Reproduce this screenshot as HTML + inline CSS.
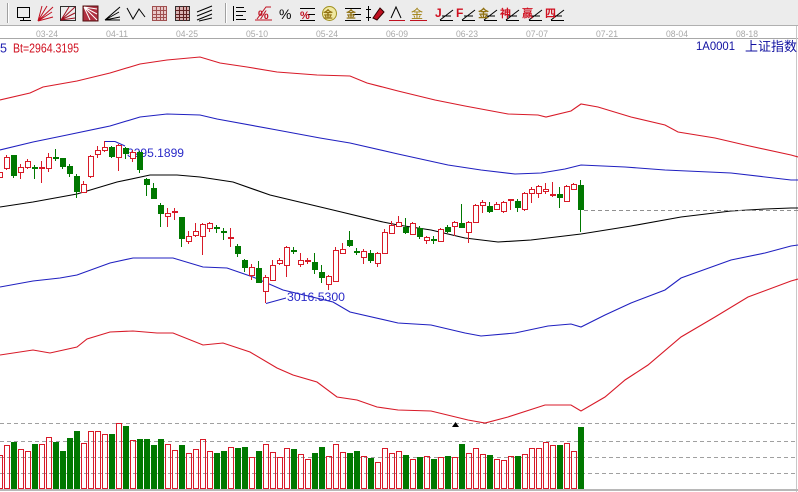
<!DOCTYPE html>
<html><head><meta charset="utf-8"><style>
html,body{margin:0;padding:0;background:#fff;overflow:hidden}
svg{display:block}
</style></head><body>
<svg width="798" height="492" viewBox="0 0 798 492" xmlns="http://www.w3.org/2000/svg" font-family="Liberation Sans, Noto Sans CJK SC, sans-serif">
<rect x="0" y="0" width="798" height="492" fill="#fff"/>
<!-- toolbar -->
<rect x="0" y="0" width="798" height="26" fill="#ececec"/>
<line x1="0" y1="25.5" x2="798" y2="25.5" stroke="#b0b0b0"/>
<line x1="7.5" y1="3" x2="7.5" y2="23" stroke="#a0a0a0"/><line x1="8.5" y1="3" x2="8.5" y2="23" stroke="#fff"/>
<line x1="225.5" y1="3" x2="225.5" y2="23" stroke="#a0a0a0"/><line x1="226.5" y1="3" x2="226.5" y2="23" stroke="#fff"/>
<g stroke-width="1" fill="none">
<!-- 1 -->
<rect x="17.5" y="7.5" width="12" height="10" stroke="#000"/><line x1="20" y1="20.5" x2="31" y2="20.5" stroke="#000"/><line x1="23.5" y1="17" x2="23.5" y2="21" stroke="#000"/>
<!-- 2 red fan -->
<path d="M38 21L53 7M38 21L52 12M38 21L53 17M38 21L47 6M38 21L42 6" stroke="#c01020"/>
<!-- 3 -->
<rect x="60.5" y="6.5" width="15" height="14" stroke="#303030"/><path d="M61 20L75 7M61 20L75 13M61 20L69 7M61 20L75 18" stroke="#a01020"/>
<!-- 4 -->
<rect x="83" y="6" width="15" height="15" fill="#b03040" stroke="#501010"/><path d="M84 7L97 20M84 7L97 14M84 7L90 20M84 7L97 9" stroke="#fff"/>
<!-- 5 -->
<path d="M105 20L120 7M105 20L119 12M105 20L120 17M105 20H120" stroke="#000"/>
<!-- 6 -->
<path d="M127 8L133 19L139 9L145 17" stroke="#000"/>
<!-- 7 grid -->
<rect x="152.5" y="6.5" width="14" height="14" stroke="#a05050" fill="#e8c8c8"/><path d="M152 10.5H167M152 14.5H167M152 17.5H167M156.5 6V21M160.5 6V21M163.5 6V21" stroke="#a05050"/>
<!-- 8 grid -->
<rect x="175.5" y="6.5" width="14" height="14" stroke="#303030" fill="#d8b0b0"/><path d="M175 10.5H190M175 14.5H190M175 17.5H190M179.5 6V21M183.5 6V21M186.5 6V21" stroke="#602020"/>
<!-- 9 -->
<path d="M197 12L212 6M197 16L212 10M197 20L212 14M199 21L212 18" stroke="#000"/>
<!-- 11 -->
<path d="M233.5 6V21M236 7.5H244M236 11.5H246M236 15.5H243M236 19.5H246" stroke="#000"/>
<!-- 12 -->
<path d="M255 20H272M257 19L266 7H271" stroke="#c01020"/>
<!-- 14 -->
<path d="M300 8.5H315M300 20.5H315M308 14.5H315" stroke="#000"/>
<!-- 15 -->
<circle cx="329.5" cy="13.5" r="7" stroke="#a09020" fill="#f0e8a0"/>
<!-- 16 -->
<path d="M345 8.5H361M353 14.5H361M345 20.5H361" stroke="#000"/>
<!-- 17 -->
<path d="M368.5 6V21M366 9.5H371M366 17.5H371" stroke="#000"/><path d="M373 18L380 8L384 12L377 20Z" fill="#c01020" stroke="#300"/>
<!-- 18 -->
<path d="M389 20.5H405" stroke="#c01020"/><path d="M391 18L396 7L401 18" stroke="#000"/>
<!-- 19 -->
<path d="M410 20.5H427" stroke="#c01020"/>
<!-- angle icons -->
<path d="M440 20.5H453M440 20L453 10M442 16H451" stroke="#000"/>
<path d="M462 20.5H475M462 20L475 10M464 16H473" stroke="#000"/>
<path d="M484 20.5H497M484 20L497 10M486 16H495" stroke="#000"/>
<path d="M506 20.5H519M506 20L519 10M508 16H517" stroke="#000"/>
<path d="M529 20.5H542M529 20L542 10M531 16H540" stroke="#000"/>
<path d="M551 20.5H564M551 20L564 10M553 16H562" stroke="#000"/>
</g>
<g font-size="12" font-weight="bold">
<text x="258" y="19" fill="#c01020" font-size="12">%</text>
<text x="279" y="19" fill="#000" font-size="14" font-weight="normal">%</text>
<text x="300" y="19" fill="#c01020" font-size="11">%</text>
<text x="323" y="18" fill="#907010" font-size="10">金</text>
<text x="346" y="18" fill="#907010" font-size="10">金</text>
<text x="411" y="18" fill="#a08010" font-size="12" font-weight="normal">金</text>
<text x="435" y="17" fill="#d01020">J</text>
<text x="456" y="17" fill="#d01020">F</text>
<text x="478" y="17" fill="#907010" font-size="11">金</text>
<text x="500" y="17" fill="#d01020" font-size="11">神</text>
<text x="522" y="17" fill="#d01020" font-size="11">赢</text>
<text x="545" y="17" fill="#d01020" font-size="11">四</text>
</g>
<!-- date axis -->
<line x1="0" y1="38.5" x2="798" y2="38.5" stroke="#a8a8a8"/>
<g fill="#a8a8a8" font-size="9">
<text x="36" y="37" textLength="22" lengthAdjust="spacingAndGlyphs">03-24</text>
<text x="106" y="37" textLength="22" lengthAdjust="spacingAndGlyphs">04-11</text>
<text x="176" y="37" textLength="22" lengthAdjust="spacingAndGlyphs">04-25</text>
<text x="246" y="37" textLength="22" lengthAdjust="spacingAndGlyphs">05-10</text>
<text x="316" y="37" textLength="22" lengthAdjust="spacingAndGlyphs">05-24</text>
<text x="386" y="37" textLength="22" lengthAdjust="spacingAndGlyphs">06-09</text>
<text x="456" y="37" textLength="22" lengthAdjust="spacingAndGlyphs">06-23</text>
<text x="526" y="37" textLength="22" lengthAdjust="spacingAndGlyphs">07-07</text>
<text x="596" y="37" textLength="22" lengthAdjust="spacingAndGlyphs">07-21</text>
<text x="666" y="37" textLength="22" lengthAdjust="spacingAndGlyphs">08-04</text>
<text x="736" y="37" textLength="22" lengthAdjust="spacingAndGlyphs">08-18</text>
</g>
<line x1="796.5" y1="26" x2="796.5" y2="492" stroke="#c8c8c8"/>
<!-- header texts -->
<text x="0" y="52.5" fill="#2020b0" font-size="12.5">5</text>
<text x="13" y="52.5" fill="#d01020" font-size="12.5" textLength="66" lengthAdjust="spacingAndGlyphs">Bt=2964.3195</text>
<text x="696" y="50" fill="#1010a0" font-size="11.6" textLength="39" lengthAdjust="spacingAndGlyphs">1A0001</text>
<text x="745" y="51" fill="#1010a0" font-size="13" textLength="52" lengthAdjust="spacingAndGlyphs" font-family="Noto Sans CJK SC, sans-serif">上证指数</text>
<!-- volume grid -->
<g stroke="#a0a0a0" stroke-dasharray="4 3">
<line x1="0" y1="423.5" x2="796" y2="423.5"/>
<line x1="0" y1="441.5" x2="796" y2="441.5"/>
<line x1="0" y1="457.5" x2="796" y2="457.5"/>
<line x1="0" y1="473.5" x2="796" y2="473.5"/>
</g>
<line x1="0" y1="490" x2="798" y2="490" stroke="#b8b8b8" stroke-width="2"/>
<!-- bands -->
<g fill="none" stroke-width="1.1">
<polyline stroke="#d81a28" points="0,100 30,93 43,87 77,81 110,73 140,64 167,60 200,57 220,63 247,67 277,72 317,75 350,76 367,83 398,91 435,100 465,106 508,114 538,115 546,117 571,111 581,104 598,107 631,117 665,125 678,132 715,138 745,145 791,155 798,157"/>
<polyline stroke="#2020c0" points="0,150 33,142 67,135 110,126 140,117 167,114 200,115 217,119 277,130 320,138 350,143 398,154 448,165 481,170 515,174 541,173 565,169 581,165 625,167 665,170 731,173 791,180 798,180"/>
<polyline stroke="#000" points="0,207 33,202 77,194 117,182 150,175 177,175 200,177 233,182 270,195 333,210 383,222 398,225 431,230 465,238 498,242 531,240 581,234 631,226 681,217 731,211 765,209 791,208 798,208"/>
<polyline stroke="#2020c0" points="0,287 33,281 60,278 77,275 110,263 133,258 173,258 203,267 227,268 253,277 283,290 333,302 350,312 398,323 431,325 465,333 481,336 515,333 548,326 571,324 581,327 605,315 631,303 665,290 681,278 731,260 765,253 791,246 798,245"/>
<polyline stroke="#d81a28" points="0,355 33,350 50,353 77,347 87,339 110,332 133,331 157,333 173,333 203,345 223,343 250,352 277,368 293,375 317,382 337,397 357,400 377,407 398,410 431,411 468,420 485,423 508,417 545,405 571,405 581,411 605,397 625,380 648,365 681,337 715,317 748,297 791,281 798,279"/>
</g>
<line x1="584" y1="210.5" x2="798" y2="210.5" stroke="#909090" stroke-dasharray="4 3"/>
<polygon points="455.5,422 452,427 459,427" fill="#000"/>
<!-- hi/lo labels -->
<path d="M104 141.5H115L125 146" stroke="#2020c0" fill="none"/>
<text x="127" y="157" fill="#2a2ac8" font-size="12" textLength="57" lengthAdjust="spacingAndGlyphs">3295.1899</text>
<path d="M266 303.5L286 298" stroke="#2020c0" fill="none"/>
<text x="287" y="301" fill="#2a2ac8" font-size="12" textLength="58" lengthAdjust="spacingAndGlyphs">3016.5300</text>
<!-- wicks -->
<path fill="none" stroke="#d81a28" d="M-0.5 170V180M6.5 155V170M20.5 164V179M27.5 159V169M48.5 153V172M83.5 181V193M90.5 155V178M97.5 146V158M104.5 141V152M118.5 144V171M132.5 150V162M167.5 208V227M188.5 231V244M195.5 223V237M202.5 223V255M209.5 222V232M251.5 264V280M265.5 275V303M272.5 260V281M279.5 258V265M286.5 246V277M300.5 253V267M328.5 275V290M335.5 247V282M342.5 243V254M363.5 249V264M377.5 252V267M384.5 229V254M391.5 221V234M398.5 216V227M412.5 222V235M426.5 236V244M440.5 228V242M454.5 221V236M468.5 221V243M475.5 204V223M482.5 200V213M496.5 202V210M503.5 201V213M524.5 192V211M531.5 187V203M538.5 185V198M545.5 183V194M566.5 185V202M573.5 183V190M41.5 161V183M174.5 208V220M230.5 228V247M307.5 258V264M510.5 199V210M552.5 182V197"/>
<path fill="none" stroke="#007800" d="M13.5 155V178M62.5 158V169M69.5 164V177M76.5 174V198M111.5 146V158M125.5 147V159M139.5 151V173M146.5 178V196M153.5 183V198M160.5 203V227M181.5 217V247M237.5 244V257M244.5 259V272M258.5 261V282M314.5 253V274M321.5 265V283M349.5 231V247M370.5 250V263M405.5 218V234M419.5 226V239M447.5 225V233M461.5 204V227M489.5 202V213M517.5 199V212M559.5 187V208M580.5 180V232M34.5 165V179M55.5 149V161M216.5 225V233M223.5 228V240M293.5 247V254M356.5 248V255M433.5 236V244"/>
<!-- red hollow bodies -->
<g fill="#fff" stroke="#d81a28">
<rect x="-2.5" y="172.5" width="5" height="5"/><rect x="4.5" y="157.5" width="5" height="11"/><rect x="18.5" y="167.5" width="5" height="5"/><rect x="25.5" y="161.5" width="5" height="6"/><rect x="46.5" y="157.5" width="5" height="11"/><rect x="81.5" y="184.5" width="5" height="8"/><rect x="88.5" y="156.5" width="5" height="20"/><rect x="95.5" y="150.5" width="5" height="4"/><rect x="102.5" y="147.5" width="5" height="3"/><rect x="116.5" y="145.5" width="5" height="12"/><rect x="130.5" y="152.5" width="5" height="6"/><rect x="165.5" y="213.5" width="5" height="3"/><rect x="186.5" y="236.5" width="5" height="5"/><rect x="193.5" y="231.5" width="5" height="4"/><rect x="200.5" y="224.5" width="5" height="12"/><rect x="207.5" y="223.5" width="5" height="5"/><rect x="249.5" y="267.5" width="5" height="8"/><rect x="263.5" y="277.5" width="5" height="14"/><rect x="270.5" y="265.5" width="5" height="15"/><rect x="277.5" y="260.5" width="5" height="3"/><rect x="284.5" y="247.5" width="5" height="18"/><rect x="298.5" y="260.5" width="5" height="4"/><rect x="326.5" y="276.5" width="5" height="8"/><rect x="333.5" y="250.5" width="5" height="31"/><rect x="340.5" y="249.5" width="5" height="4"/><rect x="361.5" y="251.5" width="5" height="6"/><rect x="375.5" y="253.5" width="5" height="10"/><rect x="382.5" y="232.5" width="5" height="21"/><rect x="389.5" y="225.5" width="5" height="8"/><rect x="396.5" y="222.5" width="5" height="4"/><rect x="410.5" y="223.5" width="5" height="11"/><rect x="424.5" y="237.5" width="5" height="3"/><rect x="438.5" y="229.5" width="5" height="12"/><rect x="452.5" y="222.5" width="5" height="4"/><rect x="466.5" y="222.5" width="5" height="10"/><rect x="473.5" y="205.5" width="5" height="17"/><rect x="480.5" y="202.5" width="5" height="3"/><rect x="494.5" y="204.5" width="5" height="5"/><rect x="501.5" y="202.5" width="5" height="9"/><rect x="522.5" y="193.5" width="5" height="16"/><rect x="529.5" y="189.5" width="5" height="4"/><rect x="536.5" y="186.5" width="5" height="7"/><rect x="543.5" y="189.5" width="5" height="2"/><rect x="564.5" y="186.5" width="5" height="15"/><rect x="571.5" y="184.5" width="5" height="5"/>
</g>
<g fill="#d81a28">
<rect x="39" y="167" width="6" height="2"/><rect x="172" y="211" width="6" height="2"/><rect x="228" y="237" width="6" height="2"/><rect x="305" y="260" width="6" height="2"/><rect x="508" y="199" width="6" height="2"/><rect x="550" y="194" width="6" height="2"/>
</g>
<g fill="#007800">
<rect x="11" y="155" width="6" height="21"/><rect x="60" y="158" width="6" height="9"/><rect x="67" y="166" width="6" height="8"/><rect x="74" y="176" width="6" height="16"/><rect x="109" y="147" width="6" height="10"/><rect x="123" y="148" width="6" height="6"/><rect x="137" y="152" width="6" height="18"/><rect x="144" y="179" width="6" height="6"/><rect x="151" y="188" width="6" height="11"/><rect x="158" y="205" width="6" height="9"/><rect x="179" y="217" width="6" height="22"/><rect x="235" y="246" width="6" height="8"/><rect x="242" y="260" width="6" height="8"/><rect x="256" y="268" width="6" height="15"/><rect x="312" y="262" width="6" height="8"/><rect x="319" y="272" width="6" height="6"/><rect x="347" y="240" width="6" height="6"/><rect x="368" y="253" width="6" height="8"/><rect x="403" y="227" width="6" height="6"/><rect x="417" y="228" width="6" height="9"/><rect x="445" y="227" width="6" height="5"/><rect x="459" y="223" width="6" height="5"/><rect x="487" y="206" width="6" height="6"/><rect x="515" y="201" width="6" height="7"/><rect x="557" y="194" width="6" height="4"/><rect x="578" y="185" width="6" height="25"/>
<rect x="32" y="167" width="6" height="2"/><rect x="53" y="157" width="6" height="2"/><rect x="214" y="227" width="6" height="2"/><rect x="221" y="231" width="6" height="2"/><rect x="291" y="250" width="6" height="2"/><rect x="354" y="251" width="6" height="2"/><rect x="431" y="239" width="6" height="2"/>
</g>
<!-- volume red -->
<g fill="none" stroke="#d81a28">
<rect x="-2.5" y="455.5" width="5" height="33"/><rect x="4.5" y="445.5" width="5" height="43"/><rect x="18.5" y="449.5" width="5" height="39"/><rect x="25.5" y="451.5" width="5" height="37"/><rect x="39.5" y="444.5" width="5" height="44"/><rect x="46.5" y="437.5" width="5" height="51"/><rect x="81.5" y="443.5" width="5" height="45"/><rect x="88.5" y="431.5" width="5" height="57"/><rect x="95.5" y="431.5" width="5" height="57"/><rect x="102.5" y="434.5" width="5" height="54"/><rect x="116.5" y="423.5" width="5" height="65"/><rect x="130.5" y="440.5" width="5" height="48"/><rect x="165.5" y="444.5" width="5" height="44"/><rect x="172.5" y="450.5" width="5" height="38"/><rect x="186.5" y="453.5" width="5" height="35"/><rect x="193.5" y="449.5" width="5" height="39"/><rect x="200.5" y="439.5" width="5" height="49"/><rect x="207.5" y="451.5" width="5" height="37"/><rect x="228.5" y="447.5" width="5" height="41"/><rect x="249.5" y="457.5" width="5" height="31"/><rect x="263.5" y="444.5" width="5" height="44"/><rect x="270.5" y="452.5" width="5" height="36"/><rect x="277.5" y="457.5" width="5" height="31"/><rect x="284.5" y="448.5" width="5" height="40"/><rect x="298.5" y="454.5" width="5" height="34"/><rect x="305.5" y="459.5" width="5" height="29"/><rect x="326.5" y="456.5" width="5" height="32"/><rect x="333.5" y="444.5" width="5" height="44"/><rect x="340.5" y="452.5" width="5" height="36"/><rect x="361.5" y="456.5" width="5" height="32"/><rect x="375.5" y="462.5" width="5" height="26"/><rect x="382.5" y="448.5" width="5" height="40"/><rect x="389.5" y="453.5" width="5" height="35"/><rect x="396.5" y="451.5" width="5" height="37"/><rect x="410.5" y="459.5" width="5" height="29"/><rect x="424.5" y="456.5" width="5" height="32"/><rect x="438.5" y="457.5" width="5" height="31"/><rect x="452.5" y="457.5" width="5" height="31"/><rect x="466.5" y="453.5" width="5" height="35"/><rect x="473.5" y="448.5" width="5" height="40"/><rect x="480.5" y="454.5" width="5" height="34"/><rect x="494.5" y="459.5" width="5" height="29"/><rect x="501.5" y="460.5" width="5" height="28"/><rect x="508.5" y="456.5" width="5" height="32"/><rect x="522.5" y="454.5" width="5" height="34"/><rect x="529.5" y="448.5" width="5" height="40"/><rect x="536.5" y="448.5" width="5" height="40"/><rect x="543.5" y="442.5" width="5" height="46"/><rect x="550.5" y="445.5" width="5" height="43"/><rect x="564.5" y="443.5" width="5" height="45"/><rect x="571.5" y="451.5" width="5" height="37"/>
</g>
<!-- volume green -->
<g fill="#007800">
<rect x="11" y="442" width="6" height="47"/><rect x="32" y="444" width="6" height="45"/><rect x="53" y="442" width="6" height="47"/><rect x="60" y="451" width="6" height="38"/><rect x="67" y="438" width="6" height="51"/><rect x="74" y="431" width="6" height="58"/><rect x="109" y="434" width="6" height="55"/><rect x="123" y="426" width="6" height="63"/><rect x="137" y="439" width="6" height="50"/><rect x="144" y="439" width="6" height="50"/><rect x="151" y="445" width="6" height="44"/><rect x="158" y="439" width="6" height="50"/><rect x="179" y="445" width="6" height="44"/><rect x="214" y="453" width="6" height="36"/><rect x="221" y="451" width="6" height="38"/><rect x="235" y="448" width="6" height="41"/><rect x="242" y="447" width="6" height="42"/><rect x="256" y="451" width="6" height="38"/><rect x="291" y="449" width="6" height="40"/><rect x="312" y="453" width="6" height="36"/><rect x="319" y="447" width="6" height="42"/><rect x="347" y="453" width="6" height="36"/><rect x="354" y="451" width="6" height="38"/><rect x="368" y="458" width="6" height="31"/><rect x="403" y="455" width="6" height="34"/><rect x="417" y="457" width="6" height="32"/><rect x="431" y="459" width="6" height="30"/><rect x="445" y="456" width="6" height="33"/><rect x="459" y="444" width="6" height="45"/><rect x="487" y="455" width="6" height="34"/><rect x="515" y="456" width="6" height="33"/><rect x="557" y="445" width="6" height="44"/><rect x="578" y="427" width="6" height="62"/>
</g>
</svg>
</body></html>
